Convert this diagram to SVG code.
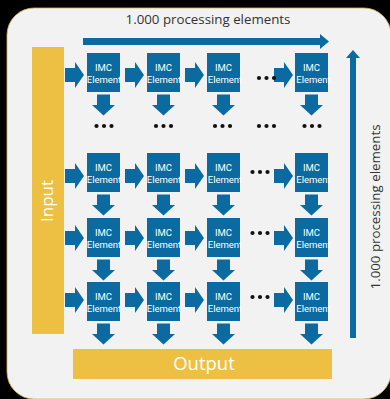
<svg xmlns="http://www.w3.org/2000/svg" width="390" height="399" viewBox="0 0 390 399">
<defs>
<style>
.box{fill:#0b6a9f}
.arr{fill:#0b6a9f}
.bar{fill:#edc043}
.imc{font-family:Roboto,"Open Sans",sans-serif;font-size:9.5px;fill:#ffffff;text-anchor:middle}
.lbl{font-family:"Open Sans","DejaVu Sans",sans-serif;font-size:13.3px;fill:#333333;text-anchor:middle}
.big{font-family:"Open Sans","DejaVu Sans",sans-serif;fill:#ffffff;text-anchor:middle}
.dot{fill:#111111}
</style>
<path id="ra" d="M0,-7 H10 V-13 L19,0 L10,13 V7 H0 Z"/>
<path id="da" d="M-6.5,0 H6.5 V10.5 H11.5 L0,21 L-11.5,10.5 H-6.5 Z"/>
<g id="dots"><circle cx="0" cy="0" r="2.1"/><circle cx="7.5" cy="0" r="2.1"/><circle cx="15" cy="0" r="2.1"/></g>
</defs>
<rect x="0" y="0" width="390" height="399" fill="#000000"/>
<rect x="7" y="8" width="384" height="391" rx="27" fill="#f2f2f2" stroke="#d9b255" stroke-width="0.8"/>

<text class="lbl" x="208" y="24">1.000 processing elements</text>
<text class="lbl" transform="translate(380,207) rotate(-90)">1.000 processing elements</text>

<g id="input">
<rect class="bar" x="32" y="47" width="32" height="287"/>
<text class="big" font-size="17" transform="translate(53,201) rotate(-90)">Input</text>
</g>
<g id="output">
<rect class="bar" x="73" y="349" width="259" height="30"/>
<text class="big" font-size="18.5" x="204" y="370">Output</text>
</g>

<g id="connectors" class="arr">
<path d="M83,38 H320 V34 L329,41.5 L320,49 V45 H83 Z"/>
<path d="M350,338 V58 H346 L353,50 L360,58 H356 V338 Z"/>
<use href="#ra" x="65" y="75"/><use href="#ra" x="125" y="75"/><use href="#ra" x="185" y="75"/><use href="#ra" x="274" y="75"/>
<use href="#ra" x="65" y="176"/><use href="#ra" x="125" y="176"/><use href="#ra" x="185" y="176"/><use href="#ra" x="274" y="176"/>
<use href="#ra" x="65" y="238"/><use href="#ra" x="125" y="238"/><use href="#ra" x="185" y="238"/><use href="#ra" x="274" y="238"/>
<use href="#ra" x="65" y="300"/><use href="#ra" x="125" y="300"/><use href="#ra" x="185" y="300"/><use href="#ra" x="274" y="300"/>
<use href="#da" x="103.5" y="94.5"/><use href="#da" x="163.5" y="94.5"/><use href="#da" x="223.5" y="94.5"/><use href="#da" x="311.5" y="94.5"/>
<use href="#da" x="103.5" y="194.5"/><use href="#da" x="163.5" y="194.5"/><use href="#da" x="223.5" y="194.5"/><use href="#da" x="311.5" y="194.5"/>
<use href="#da" x="103.5" y="259.5"/><use href="#da" x="163.5" y="259.5"/><use href="#da" x="223.5" y="259.5"/><use href="#da" x="311.5" y="259.5"/>
<use href="#da" x="103.5" y="323.5"/><use href="#da" x="163.5" y="323.5"/><use href="#da" x="223.5" y="323.5"/><use href="#da" x="311.5" y="323.5"/>
</g>

<g id="ellipses" class="dot">
<use href="#dots" x="259" y="78"/>
<use href="#dots" x="252.5" y="172"/>
<use href="#dots" x="252.5" y="233"/>
<use href="#dots" x="252.5" y="297"/>
<use href="#dots" x="96.5" y="126"/>
<use href="#dots" x="156" y="126"/>
<use href="#dots" x="215" y="126"/>
<use href="#dots" x="259" y="126"/>
<use href="#dots" x="304.5" y="126"/>
</g>

<g id="e11"><rect class="box" x="87" y="53" width="33" height="39"/><text class="imc" x="103.5" y="71">IMC</text><text class="imc" x="104" y="82.5">Element</text></g>
<g id="e12"><rect class="box" x="147" y="53" width="33" height="39"/><text class="imc" x="163.5" y="71">IMC</text><text class="imc" x="164" y="82.5">Element</text></g>
<g id="e13"><rect class="box" x="207" y="53" width="33" height="39"/><text class="imc" x="223.5" y="71">IMC</text><text class="imc" x="225" y="82.5">Element</text></g>
<g id="e14"><rect class="box" x="295" y="53" width="33" height="39"/><text class="imc" x="311.5" y="71">IMC</text><text class="imc" x="313.5" y="82.5">Element</text></g>

<g id="e21"><rect class="box" x="87" y="153" width="33" height="39"/><text class="imc" x="103.5" y="171">IMC</text><text class="imc" x="104" y="182.5">Element</text></g>
<g id="e22"><rect class="box" x="147" y="153" width="33" height="39"/><text class="imc" x="163.5" y="171">IMC</text><text class="imc" x="164" y="182.5">Element</text></g>
<g id="e23"><rect class="box" x="207" y="153" width="33" height="39"/><text class="imc" x="223.5" y="171">IMC</text><text class="imc" x="225" y="182.5">Element</text></g>
<g id="e24"><rect class="box" x="295" y="153" width="33" height="39"/><text class="imc" x="311.5" y="171">IMC</text><text class="imc" x="313.5" y="182.5">Element</text></g>

<g id="e31"><rect class="box" x="87" y="218" width="33" height="39"/><text class="imc" x="103.5" y="236">IMC</text><text class="imc" x="104" y="247.5">Element</text></g>
<g id="e32"><rect class="box" x="147" y="218" width="33" height="39"/><text class="imc" x="163.5" y="236">IMC</text><text class="imc" x="164" y="247.5">Element</text></g>
<g id="e33"><rect class="box" x="207" y="218" width="33" height="39"/><text class="imc" x="223.5" y="236">IMC</text><text class="imc" x="225" y="247.5">Element</text></g>
<g id="e34"><rect class="box" x="295" y="218" width="33" height="39"/><text class="imc" x="311.5" y="236">IMC</text><text class="imc" x="313.5" y="247.5">Element</text></g>

<g id="e41"><rect class="box" x="87" y="282" width="33" height="39"/><text class="imc" x="103.5" y="300">IMC</text><text class="imc" x="104" y="311.5">Element</text></g>
<g id="e42"><rect class="box" x="147" y="282" width="33" height="39"/><text class="imc" x="163.5" y="300">IMC</text><text class="imc" x="164" y="311.5">Element</text></g>
<g id="e43"><rect class="box" x="207" y="282" width="33" height="39"/><text class="imc" x="223.5" y="300">IMC</text><text class="imc" x="225" y="311.5">Element</text></g>
<g id="e44"><rect class="box" x="295" y="282" width="33" height="39"/><text class="imc" x="311.5" y="300">IMC</text><text class="imc" x="313.5" y="311.5">Element</text></g>
</svg>
